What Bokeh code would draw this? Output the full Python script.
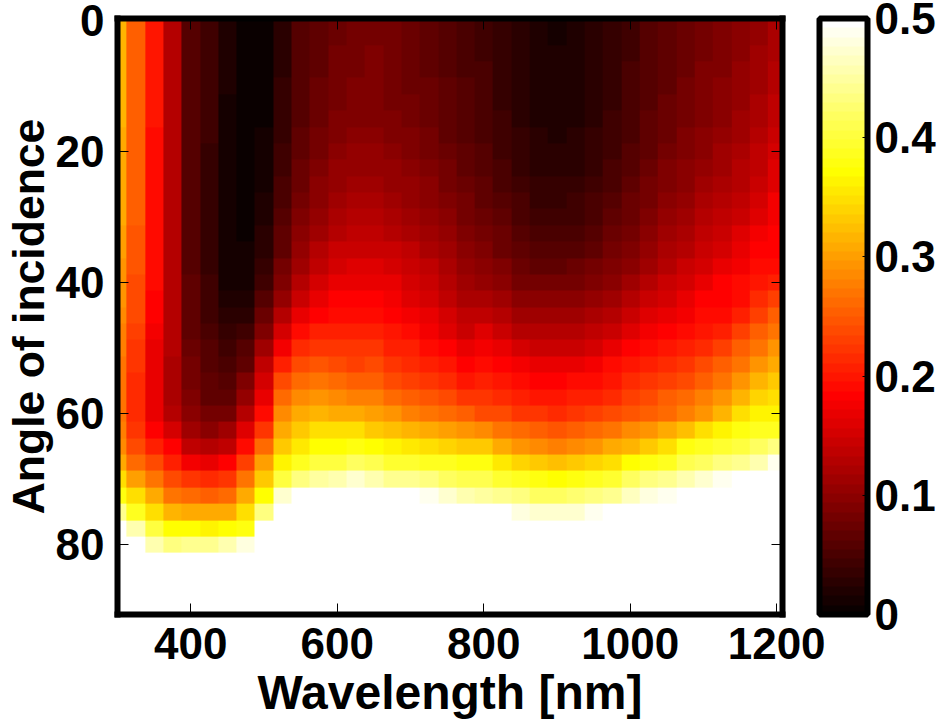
import numpy as np
from bokeh.embed import file_html
from bokeh.resources import INLINE
from bokeh.plotting import figure
from bokeh.models import Range1d, LinearAxis, FixedTicker, LinearColorMapper, ColorBar

# Reflectance, one list per wavelength, angle 0..80 in 2.5 degree steps.
angles = [i * 2.5 for i in range(33)]
wavelengths = [300 + 25 * i for i in range(37)]
r300 = [.315,.315,.315,.315,.315,.315,.315,.31,.31,.31,.31,.305,.305,.30,.30,.295,.295,.29,.285,.28,.275,.27,.27,.27,.27,.275,.285,.31,.345,.38,.44,.5,.5]
r325 = [.255,.255,.255,.255,.255,.255,.255,.25,.25,.25,.25,.25,.25,.245,.245,.245,.24,.24,.235,.23,.225,.22,.215,.215,.215,.22,.235,.26,.30,.35,.39,.46,.5]
r350 = [.2,.2,.2,.2,.2,.2,.2,.195,.195,.195,.195,.195,.195,.19,.19,.19,.19,.185,.18,.175,.17,.165,.165,.165,.165,.18,.205,.24,.27,.31,.35,.40,.46]
r375 = [.125,.125,.125,.125,.125,.125,.125,.125,.125,.125,.125,.125,.125,.125,.125,.125,.125,.125,.125,.125,.125,.12,.12,.12,.125,.15,.18,.205,.235,.27,.32,.37,.43]
r400 = [.06,.06,.06,.06,.06,.06,.06,.06,.06,.06,.06,.06,.06,.06,.06,.06,.065,.065,.07,.07,.075,.08,.085,.09,.095,.115,.14,.175,.22,.26,.31,.37,.44]
r425 = [.04,.04,.04,.04,.04,.04,.04,.04,.035,.035,.035,.035,.035,.035,.035,.035,.04,.04,.045,.05,.055,.06,.065,.07,.08,.10,.13,.17,.215,.255,.305,.365,.44]
r450 = [.02,.02,.02,.018,.016,.015,.014,.013,.012,.012,.012,.012,.012,.012,.014,.015,.015,.02,.025,.032,.04,.048,.058,.065,.085,.11,.14,.18,.22,.265,.31,.37,.46]
r475 = [.002,.002,.002,.002,.002,.002,.002,.002,.003,.003,.004,.005,.006,.007,.008,.009,.012,.018,.028,.04,.055,.07,.09,.105,.13,.16,.19,.23,.27,.31,.345,.375,.48]
r500 = [.004,.004,.004,.005,.006,.006,.007,.008,.009,.011,.013,.016,.02,.024,.028,.032,.04,.055,.072,.09,.115,.135,.155,.17,.19,.225,.26,.30,.335,.37,.43,.5,.5]
r525 = [.03,.03,.03,.031,.032,.033,.035,.037,.04,.043,.047,.052,.057,.063,.07,.08,.09,.105,.125,.15,.175,.205,.235,.26,.285,.31,.335,.365,.405,.47,.5,.5,.5]
r550 = [.055,.055,.055,.056,.057,.059,.061,.065,.07,.074,.078,.084,.09,.098,.107,.117,.13,.145,.165,.19,.215,.24,.265,.285,.31,.33,.355,.39,.435,.495,.5,.5,.5]
r575 = [.068,.068,.069,.07,.071,.073,.075,.079,.085,.09,.095,.101,.108,.116,.125,.136,.15,.165,.185,.205,.225,.245,.27,.295,.32,.345,.37,.40,.45,.5,.5,.5,.5]
r600 = [.078,.078,.079,.08,.082,.084,.087,.092,.098,.103,.109,.116,.124,.132,.142,.153,.165,.18,.195,.21,.225,.235,.26,.285,.31,.345,.37,.405,.46,.5,.5,.5,.5]
r625 = [.083,.083,.084,.085,.086,.088,.091,.096,.102,.107,.113,.12,.128,.137,.147,.158,.17,.18,.193,.207,.22,.23,.255,.28,.305,.345,.38,.42,.47,.5,.5,.5,.5]
r650 = [.085,.085,.086,.087,.088,.09,.093,.097,.103,.108,.114,.121,.129,.138,.148,.159,.17,.18,.19,.205,.22,.235,.25,.275,.3,.335,.37,.41,.46,.5,.5,.5,.5]
r675 = [.08,.08,.081,.082,.083,.085,.088,.092,.098,.103,.109,.115,.123,.132,.142,.153,.165,.174,.185,.197,.21,.225,.24,.265,.29,.325,.36,.395,.445,.5,.5,.5,.5]
r700 = [.075,.075,.076,.077,.078,.08,.083,.087,.092,.097,.102,.108,.115,.124,.133,.144,.155,.164,.175,.188,.205,.218,.232,.255,.28,.32,.355,.395,.44,.5,.5,.5,.5]
r725 = [.068,.068,.069,.07,.071,.073,.075,.079,.084,.089,.094,.1,.107,.115,.124,.134,.145,.154,.165,.178,.195,.21,.225,.248,.27,.31,.35,.39,.43,.49,.5,.5,.5]
r750 = [.06,.06,.061,.062,.063,.065,.067,.07,.075,.079,.084,.09,.096,.104,.112,.121,.13,.139,.15,.163,.18,.197,.215,.237,.26,.30,.34,.385,.42,.47,.5,.5,.5]
r775 = [.052,.052,.053,.054,.055,.056,.058,.061,.065,.069,.073,.079,.085,.092,.099,.107,.115,.124,.135,.148,.165,.182,.2,.225,.25,.29,.335,.38,.41,.455,.5,.5,.5]
r800 = [.045,.045,.046,.047,.048,.049,.05,.052,.055,.059,.063,.068,.074,.081,.088,.096,.105,.12,.14,.157,.175,.195,.21,.225,.24,.285,.33,.375,.41,.45,.5,.5,.5]
r825 = [.035,.035,.036,.037,.038,.039,.04,.042,.045,.049,.053,.058,.064,.071,.078,.086,.095,.11,.125,.145,.165,.185,.2,.215,.235,.27,.31,.355,.395,.445,.495,.5,.5]
r850 = [.025,.025,.026,.027,.028,.029,.03,.032,.035,.039,.043,.048,.054,.061,.068,.076,.085,.1,.115,.13,.15,.172,.195,.21,.225,.26,.295,.34,.385,.43,.48,.5,.5]
r875 = [.018,.018,.019,.02,.021,.022,.023,.025,.027,.03,.034,.039,.045,.052,.06,.069,.08,.095,.11,.125,.145,.165,.185,.2,.22,.25,.285,.33,.375,.42,.47,.5,.5]
r900 = [.015,.015,.016,.017,.018,.019,.02,.022,.025,.028,.032,.037,.043,.05,.058,.068,.08,.095,.11,.125,.145,.165,.185,.2,.218,.248,.28,.325,.37,.42,.47,.5,.5]
r925 = [.018,.018,.019,.02,.021,.022,.023,.025,.027,.031,.035,.04,.046,.053,.061,.071,.082,.097,.112,.128,.148,.168,.188,.204,.222,.252,.285,.33,.375,.425,.475,.5,.5]
r950 = [.025,.025,.026,.027,.028,.029,.03,.032,.035,.039,.043,.048,.054,.061,.069,.079,.09,.104,.119,.135,.155,.175,.195,.21,.23,.26,.295,.34,.385,.435,.485,.5,.5]
r975 = [.035,.035,.036,.037,.038,.039,.04,.042,.045,.049,.054,.059,.065,.072,.08,.09,.1,.114,.13,.148,.168,.188,.203,.218,.235,.27,.305,.35,.395,.445,.495,.5,.5]
r1000 = [.045,.045,.046,.047,.048,.05,.052,.054,.057,.061,.066,.071,.077,.084,.092,.101,.112,.127,.144,.163,.182,.2,.215,.23,.245,.285,.32,.37,.415,.465,.5,.5,.5]
r1025 = [.055,.055,.056,.057,.059,.061,.063,.066,.07,.074,.079,.085,.091,.098,.106,.115,.127,.143,.16,.176,.192,.208,.225,.24,.255,.295,.335,.38,.43,.48,.5,.5,.5]
r1050 = [.065,.065,.066,.068,.07,.072,.074,.077,.081,.086,.091,.097,.103,.11,.119,.129,.141,.155,.17,.183,.198,.215,.232,.25,.265,.31,.35,.39,.44,.49,.5,.5,.5]
r1075 = [.075,.075,.076,.078,.08,.082,.084,.087,.091,.096,.101,.107,.114,.122,.131,.142,.155,.168,.179,.188,.205,.222,.24,.26,.28,.325,.375,.41,.455,.5,.5,.5,.5]
r1100 = [.083,.083,.084,.086,.088,.09,.093,.096,.1,.105,.111,.118,.125,.134,.144,.156,.17,.18,.19,.2,.217,.235,.255,.275,.295,.345,.385,.42,.47,.5,.5,.5,.5]
r1125 = [.09,.09,.091,.093,.095,.098,.101,.105,.11,.115,.121,.129,.137,.146,.156,.167,.18,.186,.193,.21,.23,.25,.272,.295,.32,.365,.395,.435,.49,.5,.5,.5,.5]
r1150 = [.098,.098,.1,.102,.104,.107,.11,.114,.12,.125,.132,.14,.148,.158,.168,.178,.188,.192,.208,.228,.25,.272,.295,.32,.345,.375,.405,.445,.5,.5,.5,.5,.5]
r1175 = [.108,.108,.11,.112,.115,.118,.122,.127,.133,.14,.147,.155,.163,.172,.18,.188,.2,.213,.23,.25,.27,.295,.315,.34,.36,.385,.415,.46,.5,.5,.5,.5,.5]
r1200 = [.122,.122,.124,.127,.13,.134,.138,.144,.15,.157,.164,.172,.178,.183,.187,.19,.205,.23,.25,.27,.29,.31,.33,.35,.365,.39,.43,.49,.5,.5,.5,.5,.5]

columns = [r300,r325,r350,r375,r400,r425,r450,r475,r500,r525,r550,r575,r600,r625,r650,r675,r700,r725,r750,r775,r800,r825,r850,r875,r900,r925,r950,r975,r1000,r1025,r1050,r1075,r1100,r1125,r1150,r1175,r1200]
x_ticks = [400, 600, 800, 1000, 1200]
y_ticks = [0, 20, 40, 60, 80]
cbar_ticks = [0, 0.1, 0.2, 0.3, 0.4, 0.5]
cbar_labels = {0: "0", 0.1: "0.1", 0.2: "0.2", 0.3: "0.3", 0.4: "0.4", 0.5: "0.5"}
x_title = "Wavelength [nm]"
y_title = "Angle of incidence"

# MATLAB "hot" palette with 64 levels
def hot(n=64):
    out = []
    for i in range(n):
        t = (i + 1) / n
        r = min(1, t / .375)
        g = min(1, max(0, (t - .375) / .375))
        b = min(1, max(0, (t - .75) / .25))
        out.append("#%02x%02x%02x" % (int(r * 255), int(g * 255), int(b * 255)))
    return out

mapper = LinearColorMapper(palette=hot(), low=0, high=0.5)
FONT = "Liberation Sans"
TICK_SIZE = "44px"

def style(ax, labels=True):
    ax.axis_line_color = "black"
    ax.axis_line_width = 6
    ax.axis_line_cap = "square"
    ax.major_tick_in = 11
    ax.major_tick_out = 0
    ax.minor_tick_line_color = None
    ax.major_tick_line_color = "black"
    ax.major_tick_line_width = 1
    ax.major_label_text_font = FONT
    ax.major_label_text_font_style = "bold"
    ax.major_label_text_font_size = TICK_SIZE
    ax.major_label_text_color = "black"
    ax.axis_label_text_font = FONT
    ax.axis_label_text_font_style = "bold"
    ax.axis_label_text_color = "black"
    if not labels:
        ax.major_label_text_color = None
        ax.major_label_text_font_size = "0px"
        ax.major_label_standoff = 0

p = figure(width=938, height=723, output_backend="svg", toolbar_location=None,
           x_range=Range1d(300, 1208), y_range=Range1d(90.7, -0.3),
           min_border_left=117, min_border_right=155, min_border_top=18, min_border_bottom=109,
           x_axis_location=None, y_axis_location=None)
p.grid.visible = False
p.background_fill_color = "white"
p.outline_line_color = None
img = np.array(columns).T
p.image(image=[img], x=wavelengths[0] - 12.5, y=angles[0] - 1.25, dw=25 * len(wavelengths), dh=2.5 * len(angles),
        color_mapper=mapper)

bottom = LinearAxis(ticker=FixedTicker(ticks=x_ticks), axis_label=x_title)
style(bottom)
bottom.major_label_standoff = 13
bottom.axis_label_standoff = 4
bottom.axis_label_text_font_size = "48px"
p.add_layout(bottom, "below")
left = LinearAxis(ticker=FixedTicker(ticks=y_ticks), axis_label=y_title)
style(left)
left.major_label_standoff = 13
left.axis_label_standoff = 0
left.axis_label_text_font_size = "44.5px"
p.add_layout(left, "left")
top = LinearAxis(ticker=FixedTicker(ticks=x_ticks))
style(top, labels=False)
p.add_layout(top, "above")
right = LinearAxis(ticker=FixedTicker(ticks=y_ticks))
style(right, labels=False)
p.add_layout(right, "right")

cb = ColorBar(color_mapper=mapper, ticker=FixedTicker(ticks=cbar_ticks), major_label_overrides=cbar_labels,
              width=48, height=596, padding=0, margin=0, location=(37, 0),
              bar_line_color="black", bar_line_width=6,
              major_tick_in=5, major_tick_line_color="black", major_tick_line_width=1,
              minor_tick_line_color=None, label_standoff=7,
              major_label_text_font=FONT, major_label_text_font_style="bold",
              major_label_text_font_size=TICK_SIZE, major_label_text_color="black",
              border_line_color=None, background_fill_color=None)
p.add_layout(cb, "right")

open("out.html", "w").write(file_html(p, INLINE))
